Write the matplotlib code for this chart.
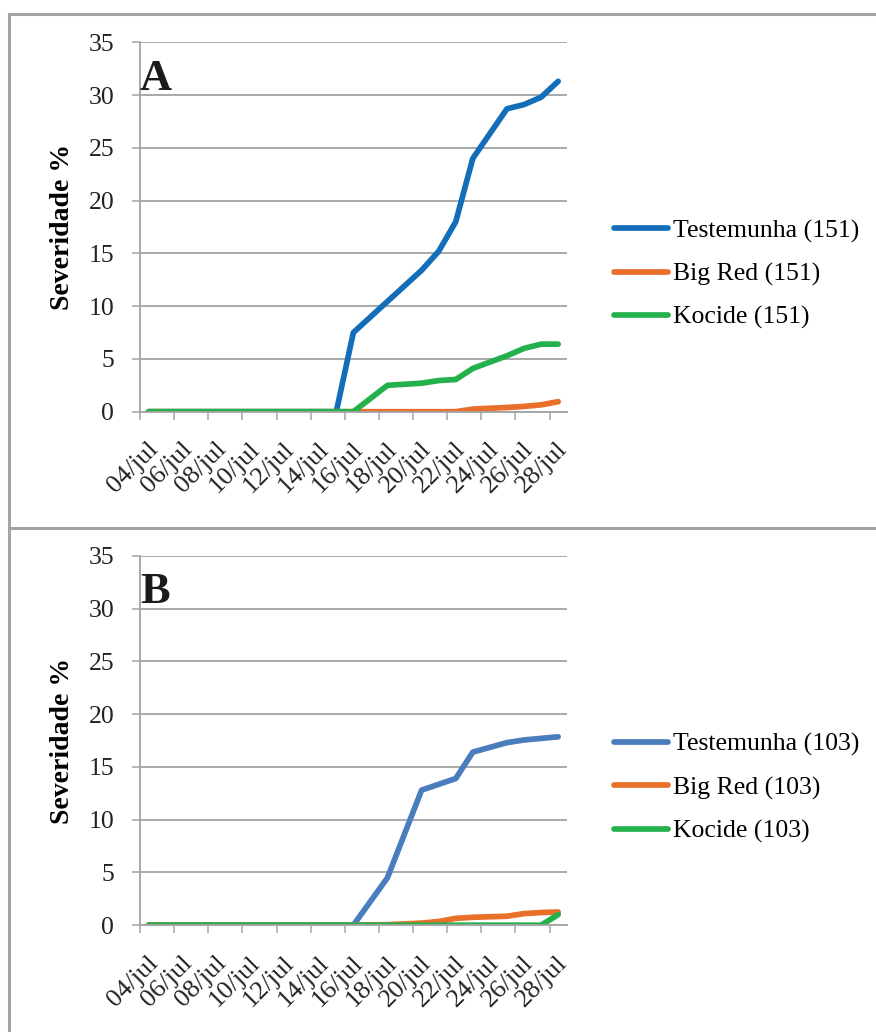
import numpy as np
import matplotlib
matplotlib.use("Agg")
import matplotlib.pyplot as plt
from matplotlib.transforms import ScaledTranslation

# dias de julho com avaliacao
dias = [4, 7, 11, 15, 16, 18, 20, 21, 22, 23, 25, 26, 27, 28]
rotulos_x = ["04/jul", "06/jul", "08/jul", "10/jul", "12/jul", "14/jul", "16/jul",
             "18/jul", "20/jul", "22/jul", "24/jul", "26/jul", "28/jul"]

# painel A (151)
testemunha_a = [0, 0, 0, 0, 7.5, 10.45, 13.4, 15.2, 18.0, 24.0, 28.7, 29.1, 29.8, 31.3]
bigred_a = [0, 0, 0, 0, 0, 0, 0, 0, 0, 0.25, 0.4, 0.5, 0.65, 0.95]
kocide_a = [0, 0, 0, 0, 0, 2.5, 2.7, 2.95, 3.05, 4.1, 5.3, 6.0, 6.4, 6.4]

# painel B (103)
testemunha_b = [0, 0, 0, 0, 0, 4.5, 12.8, 13.35, 13.9, 16.4, 17.3, 17.55, 17.7, 17.85]
bigred_b = [0, 0, 0, 0, 0, 0.05, 0.2, 0.35, 0.65, 0.75, 0.85, 1.1, 1.2, 1.25]
kocide_b = [0, 0, 0, 0, 0, 0, 0, 0, 0, 0, 0, 0, 0, 1.0]

plt.rcParams["font.family"] = ["Liberation Serif", "DejaVu Serif"]

W, H = 876, 1032
fig = plt.figure(figsize=(W / 100, H / 100), dpi=100)

cinza = "#a3a3a3"
azul_a = "#146db8"
azul_b = "#497dbd"
laranja = "#e8702a"
verde = "#24b04b"


def painel(top_px, letra, series):
    ax = fig.add_axes([140 / W, 1 - (top_px + 369.4) / H, 426.7 / W, 369.4 / H])
    x = np.array(dias) - 4
    for vals, cor, rot in series:
        ax.plot(x, vals, color=cor, lw=4.1, solid_capstyle="round",
                solid_joinstyle="round", label=rot)
    ax.set_xlim(-0.5, 24.5)
    ax.set_ylim(0, 35)
    ax.set_yticks(np.arange(0, 36, 5))
    ax.set_xticks(np.arange(0, 25, 2))
    ax.set_xticklabels(rotulos_x, rotation=45, ha="right", va="top",
                       rotation_mode="anchor")
    ax.set_xticks(np.arange(-0.5, 24, 2), minor=True)
    ax.tick_params(axis="x", which="major", length=0, pad=19, labelsize=19)
    ax.tick_params(axis="x", which="minor", length=5.5, width=1.1, color=cinza)
    ax.tick_params(axis="y", length=5.5, width=1.1, color=cinza, pad=13,
                   labelsize=18.5, labelcolor="#222222")
    for lab in ax.get_xticklabels():
        lab.set_color("#222222")
        lab.set_transform(lab.get_transform() + ScaledTranslation(-0.02, 0, fig.dpi_scale_trans))
    ax.yaxis.grid(True, color=cinza, lw=1.3)
    ax.set_axisbelow(True)
    for s in ["top", "right"]:
        ax.spines[s].set_visible(False)
    for s in ["left", "bottom"]:
        ax.spines[s].set_color(cinza)
        ax.spines[s].set_linewidth(1.3)
    ax.set_ylabel("Severidade %", fontsize=20, fontweight="bold")
    ax.yaxis.set_label_coords(-0.152, 0.5)
    ax.text(0.0, 0.871, letra, transform=ax.transAxes, fontsize=32,
            fontweight="bold", va="baseline", ha="left", color="#1a1a1a")
    meio = top_px + 232
    ax.legend(loc="center left", bbox_to_anchor=(614 / W, 1 - meio / H),
              bbox_transform=fig.transFigure, frameon=False, fontsize=18.5,
              handlelength=2.1, handletextpad=0.2, labelspacing=0.78,
              borderpad=0, borderaxespad=0)
    return ax


painel(42.3, "A", [(testemunha_a, azul_a, "Testemunha (151)"),
                   (bigred_a, laranja, "Big Red (151)"),
                   (kocide_a, verde, "Kocide (151)")])
painel(555.8, "B", [(testemunha_b, azul_b, "Testemunha (103)"),
                    (bigred_b, laranja, "Big Red (103)"),
                    (kocide_b, verde, "Kocide (103)")])

# moldura da tabela
borda = dict(color=cinza, lw=2.2, transform=fig.transFigure, clip_on=False)
fig.add_artist(plt.Line2D([8.5 / W, 1], [1 - 14 / H, 1 - 14 / H], **borda))
fig.add_artist(plt.Line2D([8.5 / W, 1], [1 - 528 / H, 1 - 528 / H], **borda))
fig.add_artist(plt.Line2D([8.5 / W, 8.5 / W], [0, 1 - 14 / H], **borda))

fig.savefig("out.png", dpi=100)
